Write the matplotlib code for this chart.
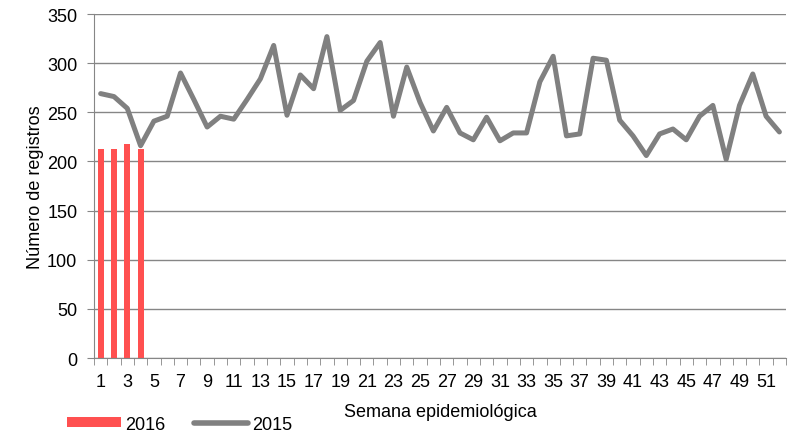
import numpy as np
import matplotlib
matplotlib.use("Agg")
import matplotlib.pyplot as plt
from matplotlib.lines import Line2D
from matplotlib.patches import Patch

plt.rcParams['font.family'] = ['Liberation Sans', 'DejaVu Sans']

# Data
weeks = list(range(1, 53))
weeks_2016 = [1, 2, 3, 4]
registros_2016 = [213, 213, 218, 213]
registros_2015 = [269, 266, 254, 216, 241, 246, 290, 263, 235, 246,
                  243, 263, 284, 318, 247, 288, 274, 327, 252, 262,
                  302, 321, 246, 296, 260, 231, 255, 229, 222, 245,
                  221, 229, 229, 281, 307, 226, 228, 305, 303, 242,
                  226, 206, 228, 233, 222, 246, 257, 202, 257, 289,
                  246, 230]
tick_labels = [str(w) for w in range(1, 53, 2)]

FS = 13

fig = plt.figure(figsize=(7.94, 4.35), dpi=100)
ax = fig.add_axes([0.1184, 0.1747, 0.8716, 0.7908])

ax.bar(weeks_2016, registros_2016, width=0.45, color='#FF5050', zorder=2)
ax.plot(weeks, registros_2015, color='#808080', linewidth=3.6,
        solid_joinstyle='round', solid_capstyle='round', zorder=3)

ax.set_ylim(0, 350)
ax.set_yticks(range(0, 351, 50))
ax.set_xlim(0.5, 52.5)
ax.set_xticks(range(1, 53, 2))
ax.set_xticklabels(tick_labels)
ax.set_xticks(np.arange(0.5, 53, 1), minor=True)
ax.tick_params(axis='x', which='major', length=0, labelsize=FS, pad=11)
ax.tick_params(axis='x', which='minor', length=5, color='#868686', direction='out')
ax.tick_params(axis='y', length=5, color='#868686', labelsize=FS, pad=7)
ax.grid(axis='y', color='#868686', linewidth=1, zorder=0)
ax.set_axisbelow(True)
for s in ['top', 'right']:
    ax.spines[s].set_visible(False)
for s in ['left', 'bottom']:
    ax.spines[s].set_color('#868686')

ax.set_ylabel('Número de registros', fontsize=FS, labelpad=2)
ax.set_xlabel('Semana epidemiológica', fontsize=FS, labelpad=9)

handles = [Patch(facecolor='#FF5050', edgecolor='none'),
           Line2D([0], [0], color='#808080', linewidth=4, solid_capstyle='round')]
fig.legend(handles, ['2016', '2015'], loc='lower left', ncol=2,
           bbox_to_anchor=(0.064, -0.034), frameon=False, fontsize=FS,
           handlelength=3.0, handleheight=0.5, columnspacing=1.6, handletextpad=0.2)

fig.savefig('out.png', dpi=100)
